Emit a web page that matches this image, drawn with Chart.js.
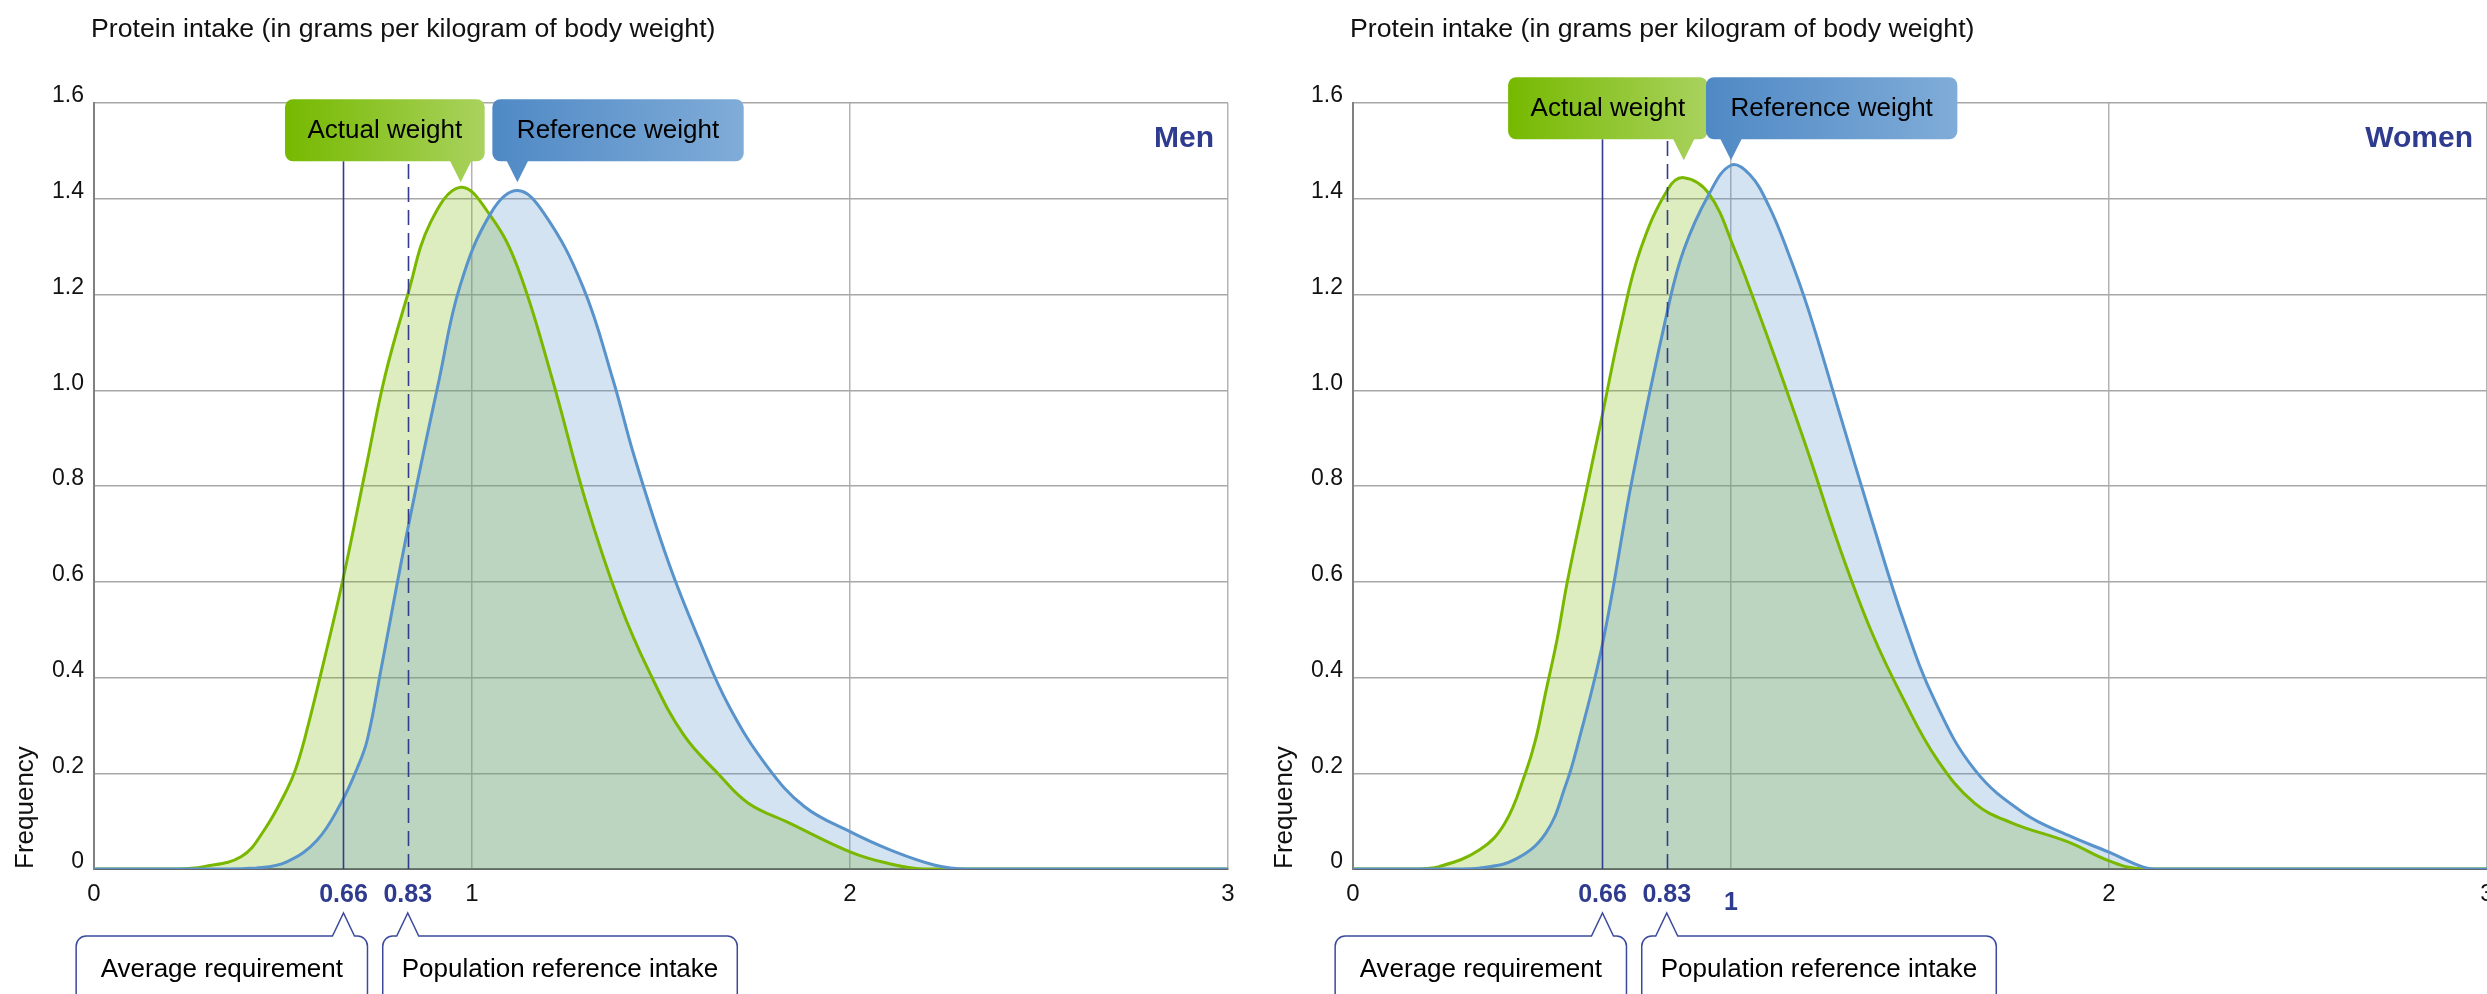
<!DOCTYPE html>
<html>
<head>
<meta charset="utf-8">
<script src="https://cdn.jsdelivr.net/npm/chart.js@4.4.1/dist/chart.umd.min.js"></script>
<style>
html,body{margin:0;padding:0;background:#fff;overflow:hidden;width:2487px;height:994px;}
#wrap{position:relative;width:2487px;height:994px;overflow:hidden;background:#fff;}
.panel{position:absolute;top:0;width:1259px;height:994px;}
</style>
</head>
<body>
<div id="wrap">
  <div class="panel" style="left:0px"><canvas id="men" width="1259" height="994"></canvas></div>
  <div class="panel" style="left:1259px"><canvas id="women" width="1259" height="994"></canvas></div>
</div>
<script>
// ---------------- DATA ----------------
const chartTitle = 'Protein intake (in grams per kilogram of body weight)';
const yAxisTitle = 'Frequency';
const panelNames = ['Men', 'Women'];
const seriesNames = ['Actual weight', 'Reference weight'];
const markerNames = ['Average requirement', 'Population reference intake'];
const markerValues = [0.66, 0.83];

const xTickValues = [0, 0.66, 0.83, 1, 2, 3];
const xTickLabels = ['0', '0.66', '0.83', '1', '2', '3'];
const yTickValues = [0, 0.2, 0.4, 0.6, 0.8, 1.0, 1.2, 1.4, 1.6];
const yTickLabels = ['0', '0.2', '0.4', '0.6', '0.8', '1.0', '1.2', '1.4', '1.6'];

const menHighlightTicks = [0.66, 0.83];
const womenHighlightTicks = [0.66, 0.83, 1];

// Men – actual weight (green)
const menActualX = [0, 0.22, 0.29, 0.39, 0.45, 0.51, 0.534, 0.56, 0.61, 0.66, 0.72, 0.77, 0.83, 0.89, 0.97, 1.05, 1.12, 1.21, 1.30, 1.39, 1.47, 1.56, 1.65, 1.73, 1.84, 2.0, 2.1, 2.2, 3.0];
const menActualY = [0, 0, 0.005, 0.026, 0.081, 0.165, 0.21, 0.28, 0.44, 0.61, 0.84, 1.03, 1.2, 1.35, 1.424, 1.363, 1.258, 1.03, 0.77, 0.556, 0.41, 0.28, 0.2, 0.138, 0.096, 0.036, 0.012, 0, 0];

// Men – reference weight (blue)
const menRefX = [0, 0.33, 0.43, 0.51, 0.59, 0.655, 0.696, 0.723, 0.76, 0.83, 0.913, 0.968, 1.05, 1.12, 1.19, 1.293, 1.373, 1.43, 1.52, 1.60, 1.68, 1.78, 1.88, 2.0, 2.106, 2.225, 2.31, 3.0];
const menRefY = [0, 0, 0.002, 0.015, 0.06, 0.14, 0.21, 0.27, 0.42, 0.71, 1.022, 1.217, 1.37, 1.417, 1.37, 1.217, 1.022, 0.86, 0.64, 0.48, 0.34, 0.215, 0.13, 0.078, 0.04, 0.008, 0, 0];

// Women – actual weight (green)
const womenActualX = [0, 0.16, 0.227, 0.335, 0.402, 0.456, 0.483, 0.51, 0.54, 0.567, 0.62, 0.66, 0.71, 0.76, 0.833, 0.875, 0.942, 1.01, 1.06, 1.12, 1.204, 1.288, 1.372, 1.456, 1.546, 1.645, 1.744, 1.893, 2.0, 2.09, 3.0];
const womenActualY = [0, 0, 0.005, 0.04, 0.096, 0.2, 0.27, 0.37, 0.48, 0.6, 0.8, 0.95, 1.14, 1.293, 1.42, 1.444, 1.41, 1.293, 1.19, 1.06, 0.87, 0.67, 0.495, 0.355, 0.228, 0.137, 0.096, 0.056, 0.017, 0, 0];

// Women – reference weight (blue)
const womenRefX = [0, 0.28, 0.335, 0.429, 0.51, 0.564, 0.591, 0.66, 0.74, 0.833, 0.875, 0.942, 1.0, 1.05, 1.10, 1.15, 1.204, 1.288, 1.372, 1.456, 1.54, 1.645, 1.774, 1.893, 2.0, 2.08, 2.12, 3.0];
const womenRefY = [0, 0, 0.002, 0.02, 0.075, 0.178, 0.249, 0.47, 0.82, 1.17, 1.293, 1.41, 1.47, 1.45, 1.385, 1.29, 1.17, 0.95, 0.73, 0.52, 0.35, 0.207, 0.117, 0.07, 0.035, 0.007, 0, 0];

// ---------------- STYLE ----------------
const FONT = "'Liberation Sans', Arial, Helvetica, sans-serif";
const GREEN = '#7ab800';
const GREEN_FILL = 'rgba(122,184,0,0.25)';
const BLUE = '#5893cb';
const BLUE_FILL = 'rgba(84,144,200,0.25)';
const NAVY = '#2e3b8e';
const MARKER = '#343a8c';

function zip(xs, ys) { return xs.map((x, i) => ({x: x, y: ys[i]})); }

const decorPlugin = {
  id: 'decor',
  afterDraw(chart, args, opts) {
    const ctx = chart.ctx;
    const ca = chart.chartArea;
    const xs = chart.scales.x, ys = chart.scales.y;
    ctx.save();

    // title
    ctx.font = '26.7px ' + FONT;
    ctx.fillStyle = '#111';
    ctx.textAlign = 'left';
    ctx.textBaseline = 'alphabetic';
    ctx.fillText(chartTitle, ca.left - 3, 37);

    // panel name
    ctx.font = 'bold 30px ' + FONT;
    ctx.fillStyle = NAVY;
    ctx.textAlign = 'right';
    ctx.fillText(opts.panelName, ca.right - 14, 147);

    // tip height from highest peak
    let maxY = -Infinity;
    chart.data.datasets.forEach(d => d.data.forEach(p => { if (p.y > maxY) maxY = p.y; }));
    const tipY = ys.getPixelForValue(maxY) - 5;
    const boxBottom = tipY - 21, boxTop = boxBottom - 62;

    // marker lines
    markerValues.forEach((v, i) => {
      const px = Math.round(xs.getPixelForValue(v)) + 0.5;
      ctx.beginPath();
      ctx.strokeStyle = MARKER;
      ctx.lineWidth = 1.6;
      ctx.setLineDash(i === 1 ? [15, 8] : []);
      ctx.moveTo(px, ca.bottom);
      ctx.lineTo(px, boxBottom);
      ctx.stroke();
    });
    ctx.setLineDash([]);

    // series callouts
    ctx.font = '26px ' + FONT;
    chart.data.datasets.forEach((d, i) => {
      let peak = d.data[0];
      d.data.forEach(p => { if (p.y > peak.y) peak = p; });
      const tipX = xs.getPixelForValue(peak.x);
      const w = ctx.measureText(d.label).width;
      let left, right;
      if (i === 0) { right = tipX + 24; left = right - (w + 45); }
      else { left = tipX - 25; right = left + w + 49; }
      const g = ctx.createLinearGradient(left, 0, right, 0);
      if (i === 0) { g.addColorStop(0, '#76b900'); g.addColorStop(1, '#a9d25e'); }
      else { g.addColorStop(0, '#4f89c5'); g.addColorStop(1, '#80acd8'); }
      ctx.fillStyle = g;
      ctx.beginPath();
      ctx.roundRect(left, boxTop, right - left, boxBottom - boxTop, 8);
      ctx.fill();
      ctx.beginPath();
      ctx.moveTo(tipX - 11, boxBottom - 1);
      ctx.lineTo(tipX, tipY);
      ctx.lineTo(tipX + 11, boxBottom - 1);
      ctx.closePath();
      ctx.fill();
      ctx.fillStyle = '#000';
      ctx.textAlign = 'center';
      ctx.textBaseline = 'middle';
      ctx.fillText(d.label, (left + right) / 2, (boxTop + boxBottom) / 2 + 1);
    });

    // marker callouts at the bottom
    const bTip = ca.bottom + 44, bTop = ca.bottom + 67, bEnd = chart.height + 20, r = 10;
    markerValues.forEach((v, i) => {
      const tipX = xs.getPixelForValue(v);
      const w = ctx.measureText(markerNames[i]).width;
      let left, right;
      if (i === 0) { right = tipX + 24; left = right - (w + 49); }
      else { left = tipX - 25; right = left + w + 38; }
      ctx.beginPath();
      ctx.moveTo(left, bEnd);
      ctx.lineTo(left, bTop + r);
      ctx.arcTo(left, bTop, left + r, bTop, r);
      ctx.lineTo(tipX - 11, bTop);
      ctx.lineTo(tipX, bTip);
      ctx.lineTo(tipX + 11, bTop);
      ctx.lineTo(right - r, bTop);
      ctx.arcTo(right, bTop, right, bTop + r, r);
      ctx.lineTo(right, bEnd);
      ctx.fillStyle = '#fff';
      ctx.fill();
      ctx.strokeStyle = '#3b4a9c';
      ctx.lineWidth = 1.5;
      ctx.stroke();
      ctx.fillStyle = '#000';
      ctx.textAlign = 'center';
      ctx.textBaseline = 'alphabetic';
      ctx.fillText(markerNames[i], (left + right) / 2, ca.bottom + 108);
    });

    ctx.restore();
  }
};

function makeChart(id, panelName, actualX, actualY, refX, refY, highlight, shifted) {
  return new Chart(document.getElementById(id), {
    type: 'line',
    data: {
      datasets: [
        { label: seriesNames[0], data: zip(actualX, actualY), borderColor: GREEN, backgroundColor: GREEN_FILL,
          fill: 'origin', borderWidth: 3, pointRadius: 0, tension: 0.4, order: 2 },
        { label: seriesNames[1], data: zip(refX, refY), borderColor: BLUE, backgroundColor: BLUE_FILL,
          fill: 'origin', borderWidth: 3, pointRadius: 0, tension: 0.4, order: 1 }
      ]
    },
    options: {
      responsive: false,
      animation: false,
      devicePixelRatio: 1,
      layout: { padding: { top: 103, right: 31, bottom: 0, left: 0 } },
      plugins: {
        legend: { display: false },
        tooltip: { enabled: false },
        filler: { drawTime: 'beforeDatasetsDraw' },
        decor: { panelName: panelName }
      },
      scales: {
        x: {
          type: 'linear', min: 0, max: 3,
          afterFit: s => { s.height = 125; },
          afterBuildTicks: s => { s.ticks = xTickValues.map(v => ({ value: v })); },
          grid: {
            drawTicks: false, lineWidth: 1.5,
            color: c => (c.tick && (markerValues.includes(c.tick.value) || c.tick.value === 0)) ? 'rgba(0,0,0,0)' : '#b4b4b4'
          },
          border: { color: '#666', width: 2 },
          ticks: {
            autoSkip: false, maxRotation: 0, padding: 11,
            callback: (v, i) => xTickLabels[i],
            color: c => highlight.includes(c.tick.value) ? NAVY : '#111',
            font: c => {
              const v = c.tick ? c.tick.value : null;
              if (highlight.includes(v)) {
                return { family: FONT, size: 25, weight: 'bold', lineHeight: shifted.includes(v) ? '46px' : 1.2 };
              }
              return { family: FONT, size: 24 };
            }
          }
        },
        y: {
          min: 0, max: 1.6,
          afterFit: s => { s.width = 94; },
          afterBuildTicks: s => { s.ticks = yTickValues.map(v => ({ value: v })); },
          grid: { drawTicks: false, lineWidth: 1.5, color: '#a8a8a8' },
          border: { color: '#808080', width: 2 },
          ticks: {
            padding: 10, labelOffset: -7, color: '#111',
            font: { family: FONT, size: 23 },
            callback: (v, i) => yTickLabels[i]
          },
          title: {
            display: true, text: yAxisTitle, align: 'start', color: '#111',
            font: { family: FONT, size: 26 },
            padding: { top: 10, bottom: 0 }
          }
        }
      }
    },
    plugins: [decorPlugin]
  });
}

makeChart('men', panelNames[0], menActualX, menActualY, menRefX, menRefY, menHighlightTicks, []);
makeChart('women', panelNames[1], womenActualX, womenActualY, womenRefX, womenRefY, womenHighlightTicks, [1]);
</script>
</body>
</html>
